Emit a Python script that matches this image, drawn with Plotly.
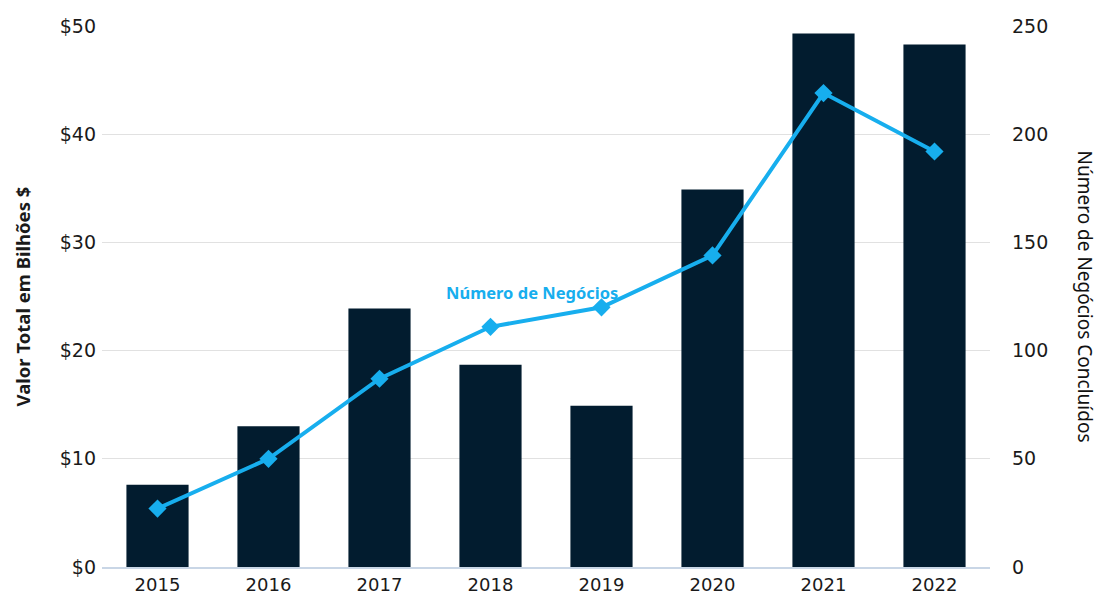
import plotly.graph_objects as go

years = ["2015", "2016", "2017", "2018", "2019", "2020", "2021", "2022"]
valor_bilhoes = [7.6, 13.0, 23.9, 18.7, 14.9, 34.9, 49.3, 48.3]
numero_negocios = [27, 50, 87, 111, 120, 144, 219, 192]

left_ticks = [0, 10, 20, 30, 40, 50]
left_labels = ["$0", "$10", "$20", "$30", "$40", "$50"]
right_ticks = [0, 50, 100, 150, 200, 250]

navy = "#021c2f"
blue = "#17aeee"
tick_font = dict(family="DejaVu Sans", size=19, color="#1a1a1a")
x_tick_font = dict(family="DejaVu Sans", size=18, color="#1a1a1a")
title_family = "Noto Sans"

fig = go.Figure()

fig.add_trace(go.Bar(
    x=years, y=valor_bilhoes, marker=dict(color=navy, line=dict(width=0)),
    width=0.56, yaxis="y", showlegend=False,
))

fig.add_trace(go.Scatter(
    x=years, y=numero_negocios, yaxis="y2", mode="lines+markers",
    line=dict(color=blue, width=4),
    marker=dict(symbol="diamond", size=14, color=blue),
    showlegend=False,
))

fig.add_annotation(
    x=3.37, y=127, xref="x", yref="y2", text="<b>Número de Negócios</b>",
    showarrow=False, font=dict(family=title_family, size=16.5, color=blue),
)

fig.add_annotation(
    x=0, y=0.5, xref="paper", yref="paper", xshift=-80, textangle=-90,
    xanchor="center", yanchor="middle",
    text="<b>Valor Total em Bilhões $</b>", showarrow=False,
    font=dict(family=title_family, size=18.5, color="#1a1a1a"),
)
fig.add_annotation(
    x=1, y=0.5, xref="paper", yref="paper", xshift=95, textangle=90,
    xanchor="center", yanchor="middle",
    text="Número de Negócios Concluídos", showarrow=False,
    font=dict(family=title_family, size=19, color="#111111"),
)

fig.update_layout(
    width=1100, height=598,
    margin=dict(l=102, r=110, t=26, b=31),
    plot_bgcolor="white", paper_bgcolor="white",
    font=tick_font,
    xaxis=dict(
        type="category", showgrid=False, showline=True, automargin=False,
        linecolor="#c9d6e6", linewidth=1.5, ticks="", tickfont=x_tick_font,
        ticklabelstandoff=1,
    ),
    yaxis=dict(
        range=[0, 50], tickvals=left_ticks, ticktext=left_labels,
        showgrid=True, gridcolor="#e1e1e1", gridwidth=1, zeroline=False,
        ticks="", ticklabelstandoff=5, tickfont=tick_font, automargin=False,
    ),
    yaxis2=dict(
        range=[0, 250], tickvals=right_ticks, overlaying="y", side="right",
        showgrid=False, zeroline=False, ticks="", ticklabelstandoff=21,
        tickfont=tick_font, automargin=False,
    ),
)

fig.write_html("out.html")
